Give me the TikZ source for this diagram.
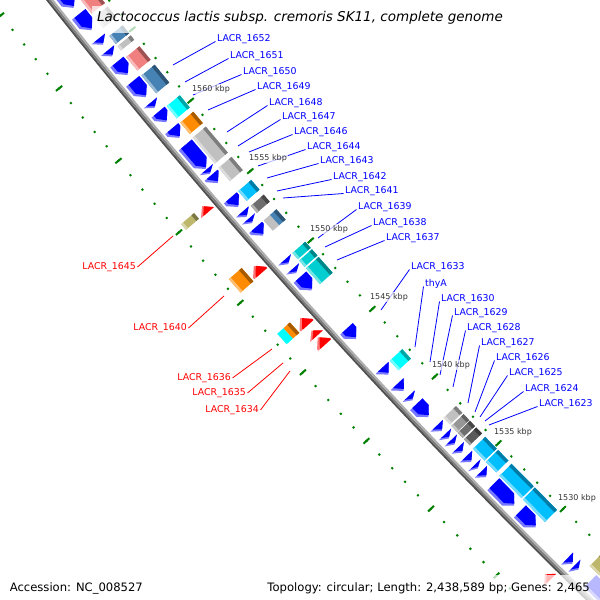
\documentclass[tikz,border=0pt]{standalone}
\usepackage{fontspec}
\setmainfont{DejaVu Sans}
\usetikzlibrary{calc}
\definecolor{tickgreen}{RGB}{0,128,0}
\definecolor{cblue}{RGB}{0,0,255}
\definecolor{cbluel}{RGB}{120,120,255}
\definecolor{cred}{RGB}{255,0,0}
\definecolor{credl}{RGB}{255,120,120}
\definecolor{cpink}{RGB}{240,128,128}
\definecolor{csteel}{RGB}{70,130,180}
\definecolor{cgray}{RGB}{192,192,192}
\definecolor{cmgray}{RGB}{150,150,150}
\definecolor{cdgray}{RGB}{110,110,110}
\definecolor{cdgraytwo}{RGB}{90,90,90}
\definecolor{ccyan}{RGB}{0,255,255}
\definecolor{csky}{RGB}{0,191,255}
\definecolor{cteal}{RGB}{0,206,209}
\definecolor{corange}{RGB}{255,140,0}
\definecolor{colive}{RGB}{189,183,107}
\definecolor{ticktext}{RGB}{51,51,51}

% box between positions #1,#2 (kbp) and radial offsets #3,#4
\newcommand{\cbox}[5]{\fill[#5] ($(C)+({ang(#1)}:{6089+(#3)})$) -- ($(C)+({ang(#2)}:{6089+(#3)})$) -- ($(C)+({ang(#2)}:{6089+(#4)})$) -- ($(C)+({ang(#1)}:{6089+(#4)})$) -- cycle;}
% arrow: tail #1, tip #2, offsets #3 #4, head length #5, colour #6
\newcommand{\arrowshape}[6]{%
  \pgfmathsetmacro{\myhp}{(#2)+((#1)-(#2))*min(1,(#5)/abs((#1)-(#2)))}%
  \pgfmathsetmacro{\mydm}{((#3)+(#4))/2}%
  \fill[#6] ($(C)+({ang(#1)}:{6089+(#3)})$) -- ($(C)+({ang(\myhp)}:{6089+(#3)})$) -- ($(C)+({ang(#2)}:{6089+\mydm})$) -- ($(C)+({ang(\myhp)}:{6089+(#4)})$) -- ($(C)+({ang(#1)}:{6089+(#4)})$) -- cycle;}
\newcommand{\rcds}[2]{\arrowshape{#1}{#2}{-22}{-5}{0.45}{cbluel}\arrowshape{#1}{(#2)+0.06}{-22}{-8}{0.42}{cblue}}
\newcommand{\fcds}[2]{\arrowshape{#1}{#2}{5}{22}{0.45}{credl}\arrowshape{#1}{(#2)-0.06}{5}{19}{0.42}{cred}}
\newcommand{\rcog}[3]{\cbox{#1}{#2}{-41}{-24}{#3}\cbox{#1}{#2}{-41}{-37.5}{#3!65!black}\cbox{#1}{#2}{-26.5}{-24}{#3!55!white}}
\newcommand{\fcog}[3]{\cbox{#1}{#2}{24}{41}{#3}\cbox{#1}{#2}{24}{27.5}{#3!65!black}\cbox{#1}{#2}{38.5}{41}{#3!55!white}}
\newcommand{\rsplit}[4]{\cbox{#1}{#2}{-32.5}{-24}{#3}\cbox{#1}{#2}{-41}{-32.5}{#4}\cbox{#1}{#2}{-41}{-37.5}{#4!65!black}}
\newcommand{\fsplit}[4]{\cbox{#1}{#2}{32.5}{41}{#3}\cbox{#1}{#2}{24}{32.5}{#4}\cbox{#1}{#2}{24}{27.5}{#4!65!black}}

\begin{document}
\begin{tikzpicture}[x=1pt,y=1pt,
  declare function={ang(\p)=-135-0.1747*(\p-1530);},
  rlabel/.style={text=cblue,font=\fontsize{9.4}{11}\selectfont,inner sep=0pt,anchor=west},
  flabel/.style={text=cred,font=\fontsize{9.4}{11}\selectfont,inner sep=0pt,anchor=east},
  rline/.style={cblue,line width=0.8pt},
  fline/.style={cred,line width=0.8pt},
  ticklabel/.style={text=ticktext,font=\fontsize{8}{9}\selectfont,fill=white,fill opacity=0.7,text opacity=1,inner sep=1pt},
  legend/.style={font=\fontsize{11.6}{13}\selectfont,inner sep=0pt}]
\useasboundingbox (0,0) rectangle (600,600);
\fill[white] (0,0) rectangle (600,600);
\clip (0,0) rectangle (600,600);
\coordinate (C) at (4836,4364);

% rulers
\foreach \k in {1520,...,1576}{
  \draw[tickgreen,line width=2pt] ($(C)+({ang(\k)}:{6089-47})$) -- ($(C)+({ang(\k)}:{6089-45})$);
  \draw[tickgreen,line width=2pt] ($(C)+({ang(\k)}:{6089+47})$) -- ($(C)+({ang(\k)}:{6089+49})$);
}
\foreach \k in {1520,1525,...,1575}{
  \draw[tickgreen,line width=2pt] ($(C)+({ang(\k)}:{6089-50})$) -- ($(C)+({ang(\k)}:{6089-42})$);
  \draw[tickgreen,line width=2pt] ($(C)+({ang(\k)}:{6089+44})$) -- ($(C)+({ang(\k)}:{6089+52})$);
}

% backbone
\draw[line width=2pt,color={rgb,255:red,80;green,80;blue,80}] ($(C)+({ang(1576)}:6091)$) arc[start angle={ang(1576)},end angle={ang(1520)},radius=6091];
\draw[line width=2pt,color={rgb,255:red,125;green,125;blue,125}] ($(C)+({ang(1576)}:6089)$) arc[start angle={ang(1576)},end angle={ang(1520)},radius=6089];
\draw[line width=2pt,color={rgb,255:red,175;green,175;blue,175}] ($(C)+({ang(1576)}:6087)$) arc[start angle={ang(1576)},end angle={ang(1520)},radius=6087];

% reverse strand CDS
\rcds{1570.8}{1567.9}
\rcds{1567.45}{1566.35}
\rcds{1565.75}{1565.35}
\rcds{1564.95}{1564.55}
\rcds{1564.15}{1563.25}
\rcds{1562.8}{1561.7}
\rcds{1561.3}{1560.95}
\rcds{1560.65}{1559.95}
\rcds{1559.5}{1558.85}
\rcds{1558.35}{1556.65}
\rcds{1556.6}{1556.3}
\rcds{1556.2}{1555.65}
\rcds{1554.6}{1553.95}
\rcds{1553.6}{1553.25}
\rcds{1553.1}{1552.8}
\rcds{1552.5}{1551.9}
\rcds{1550.15}{1549.85}
\rcds{1549.5}{1549.2}
\rcds{1548.9}{1547.95}
\rcds{1545.15}{1544.4}
\rcds{1542.3}{1541.8}
\rcds{1541.1}{1540.6}
\rcds{1540.2}{1539.9}
\rcds{1539.6}{1538.65}
\rcds{1538.0}{1537.6}
\rcds{1537.35}{1537.05}
\rcds{1536.9}{1536.6}
\rcds{1536.35}{1536.0}
\rcds{1535.7}{1535.3}
\rcds{1535.05}{1534.8}
\rcds{1534.55}{1534.15}
\rcds{1533.6}{1532.0}
\rcds{1531.55}{1530.35}
\rcds{1527.95}{1527.55}
\rcds{1527.4}{1527.1}
\rcds{1526.2}{1524.0}

% reverse strand COG boxes
\rcog{1567.05}{1568.6}{cpink}
\rcog{1566.05}{1566.8}{cgray}
\rcog{1564.95}{1565.5}{csteel}
\rcog{1564.5}{1564.8}{cgray}
\rcog{1563.1}{1564.05}{cpink}
\rcog{1561.5}{1562.75}{csteel}
\rcog{1559.75}{1560.6}{ccyan}
\rcog{1558.65}{1559.45}{corange}
\rcog{1556.55}{1558.4}{cgray}
\rcog{1555.3}{1556.25}{cgray}
\rcog{1553.9}{1554.6}{csky}
\rcog{1553.05}{1553.55}{cdgray}
\rsplit{1551.75}{1552.5}{cgray}{csteel}
\rcog{1549.7}{1550.15}{cteal}
\rcog{1549.15}{1549.6}{cteal}
\rcog{1547.9}{1549.05}{cteal}
\rcog{1541.6}{1542.3}{ccyan}
\rcog{1537.55}{1538.05}{cgray}
\rcog{1537.0}{1537.45}{cmgray}
\rcog{1536.55}{1536.95}{cdgray}
\rcog{1536.0}{1536.45}{cdgraytwo}
\rcog{1534.85}{1535.75}{csky}
\rcog{1533.95}{1534.75}{csky}
\rcog{1532.0}{1533.7}{csky}
\rcog{1530.2}{1531.9}{csky}
\rcog{1523.5}{1526.8}{colive}

% forward strand CDS and COG boxes
\fcds{1554.8}{1555.25}
\fcds{1550.45}{1551.0}
\fcds{1546.7}{1547.25}
\fcds{1545.95}{1546.35}
\fcds{1545.3}{1545.85}
\fcds{1527.8}{1528.2}
\fcog{1554.85}{1555.25}{colive}
\fcog{1550.4}{1551.35}{corange}
\fsplit{1546.7}{1547.45}{ccyan}{corange}

% reverse labels
\foreach \n/\t/\lx/\ly/\sx/\sy in {
 l1652/LACR\_1652/217/561/173/535,
 l1651/LACR\_1651/230/544/185/518,
 l1650/LACR\_1650/243/528/193/505,
 l1649/LACR\_1649/257/513/208/490,
 l1648/LACR\_1648/269/497/227/468,
 l1647/LACR\_1647/282/483/238/454,
 l1646/LACR\_1646/294/468/249/448,
 l1644/LACR\_1644/307/453/258/434,
 l1643/LACR\_1643/320/439/267/422,
 l1642/LACR\_1642/333/423/277/409,
 l1641/LACR\_1641/345/409/283/402,
 l1639/LACR\_1639/358/393/318/362,
 l1638/LACR\_1638/373/377/325/353,
 l1637/LACR\_1637/386/362/337/340,
 l1633/LACR\_1633/411/333/381/290,
 lthyA/thyA/425/316/415/253,
 l1630/LACR\_1630/441/301/430/238,
 l1629/LACR\_1629/454/287/440/225,
 l1628/LACR\_1628/467/272/453/213,
 l1627/LACR\_1627/481/257/468/197,
 l1626/LACR\_1626/496/242/475/188,
 l1625/LACR\_1625/509/227/480/183,
 l1624/LACR\_1624/525/211/485/179,
 l1623/LACR\_1623/539/196/489/175}{
  \coordinate (s\n) at (\sx,\sy);
  \node[rlabel] (\n) at (\lx,\ly) {\t};
  \draw[rline] (s\n) -- ($(\n.west)+(-1.5,-2.5)$);
}
% forward labels
\foreach \n/\t/\lx/\ly/\sx/\sy in {
 l1645/LACR\_1645/136/333/173/364,
 l1640/LACR\_1640/187/272/224/304,
 l1636/LACR\_1636/231/222/272/251,
 l1635/LACR\_1635/246/207/283/237,
 l1634/LACR\_1634/259/190/290/229}{
  \coordinate (s\n) at (\sx,\sy);
  \node[flabel] (\n) at (\lx,\ly) {\t};
  \draw[fline] (s\n) -- ($(\n.east)+(1.5,0)$);
}

% tick labels
\node[ticklabel] (k1560) at (211,511) {1560 kbp};
\node[ticklabel] (k1555) at (268,442) {1555 kbp};
\node[ticklabel] (k1550) at (329,371) {1550 kbp};
\node[ticklabel] (k1545) at (389,303) {1545 kbp};
\node[ticklabel] (k1540) at (451,235) {1540 kbp};
\node[ticklabel] (k1535) at (513,168) {1535 kbp};
\node[ticklabel] (k1530) at (577,102) {1530 kbp};

% title
\fill[white,opacity=0.72] (92,567) rectangle (508,594);
\node[font=\fontsize{13.5}{16}\selectfont\itshape,inner sep=0pt] (title) at (300,582) {Lactococcus lactis subsp. cremoris SK11, complete genome};
% legend
\fill[white,opacity=0.72] (4,0) rectangle (150,25);
\fill[white,opacity=0.72] (256,0) rectangle (600,25);
\node[legend,anchor=west] (acc) at (9.6,12) {Accession: NC\_008527};
\node[legend,anchor=east] (topo) at (590,12) {Topology: circular; Length: 2,438,589 bp; Genes: 2,465};
\end{tikzpicture}
\end{document}
